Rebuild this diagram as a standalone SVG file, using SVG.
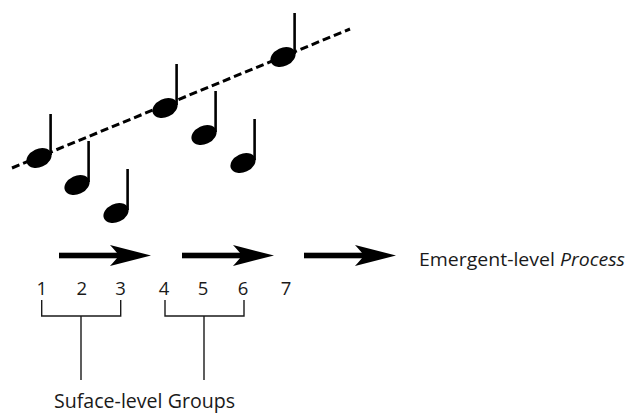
<svg xmlns="http://www.w3.org/2000/svg" width="628" height="414" viewBox="0 0 628 414">
<style>
  .t{font-family:"Open Sans","Liberation Sans",sans-serif;fill:#1a1a1a}
  .num{font-size:18.5px;text-anchor:middle}
  .br{fill:none;stroke:#1a1a1a;stroke-width:1.4}
  .stem{stroke:#000;stroke-width:2.6}
</style>
<defs>
  <g id="note">
    <ellipse cx="0" cy="0" rx="13.2" ry="9.2" transform="rotate(-25)" fill="#000"/>
    <line class="stem" x1="11.6" y1="-3" x2="11.6" y2="-44"/>
  </g>
  <g id="arrow">
    <rect x="0" y="-2.8" width="64" height="5.6" fill="#000"/>
    <path d="M92,0 L51,-10.5 Q57,-4 60,0 Q57,4 51,10.5 Z" fill="#000"/>
  </g>
</defs>
<rect width="628" height="414" fill="#fff"/>
<g id="trend-line">
  <line x1="12" y1="168" x2="350" y2="29" stroke="#000" stroke-width="3" stroke-dasharray="8,4"/>
</g>
<g id="notes">
  <use href="#note" x="39" y="158"/>
  <use href="#note" x="77" y="185"/>
  <use href="#note" x="116" y="213"/>
  <use href="#note" x="165" y="108"/>
  <use href="#note" x="204" y="135"/>
  <use href="#note" x="243" y="163"/>
  <use href="#note" x="283" y="57"/>
</g>
<g id="connectors">
  <use href="#arrow" x="59" y="255.5"/>
  <use href="#arrow" x="182" y="255.5"/>
  <use href="#arrow" x="304" y="255.5"/>
  <path class="br" d="M41.7,300 V316 H120.7 V300 M81,316 V380"/>
  <path class="br" d="M165,300 V316 H244 V300 M204,316 V380"/>
</g>
<g id="numbers" class="t num">
  <text x="41.7" y="295">1</text>
  <text x="81.7" y="295">2</text>
  <text x="120.5" y="295">3</text>
  <text x="164" y="295">4</text>
  <text x="203" y="295">5</text>
  <text x="243" y="295">6</text>
  <text x="286" y="295">7</text>
</g>
<g id="label-emergent">
  <text class="t" x="419" y="266" font-size="19" textLength="206" lengthAdjust="spacingAndGlyphs">Emergent-level <tspan font-style="italic">Process</tspan></text>
</g>
<g id="label-surface">
  <text class="t" x="54" y="408" font-size="20" textLength="181" lengthAdjust="spacingAndGlyphs">Suface-level Groups</text>
</g>
</svg>
